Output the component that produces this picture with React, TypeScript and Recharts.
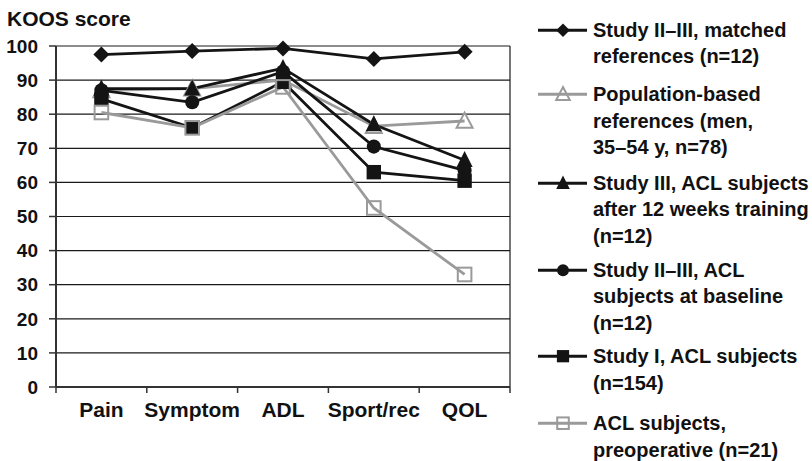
import React from 'react';
import { LineChart, Line, XAxis, YAxis, CartesianGrid, Legend } from 'recharts';

const categories = ['Pain', 'Symptom', 'ADL', 'Sport/rec', 'QOL'];
const matchedRefs = [97.5, 98.5, 99.3, 96.2, 98.3];
const populationRefs = [87, 87.5, 90, 76.5, 78];
const studyIIITraining = [87.5, 87.5, 93.5, 77, 66.5];
const baselineACL = [87, 83.5, 92.5, 70.5, 63.5];
const studyIACL = [84.5, 76, 89.5, 63, 60.5];
const preopACL = [80.5, 76, 88, 52.5, 33];
const yTicks = [0, 10, 20, 30, 40, 50, 60, 70, 80, 90, 100];

const seriesKeys = ['matched', 'population', 'training', 'baseline', 'studyI', 'preop'];
const seriesValues = [matchedRefs, populationRefs, studyIIITraining, baselineACL, studyIACL, preopACL];
const seriesLabels = [
  ['Study II–III, matched', 'references (n=12)'],
  ['Population-based', 'references (men,', '35–54 y, n=78)'],
  ['Study III, ACL subjects', 'after 12 weeks training', '(n=12)'],
  ['Study II–III, ACL', 'subjects at baseline', '(n=12)'],
  ['Study I, ACL subjects', '(n=154)'],
  ['ACL subjects,', 'preoperative (n=21)'],
];

const BLACK = '#141414';
const GREY = '#9a9a9a';
const seriesColors = [BLACK, GREY, BLACK, BLACK, BLACK, GREY];
const seriesShapes = ['diamond', 'openTriangle', 'triangle', 'circle', 'square', 'openSquare'];
const LEGEND_GAPS = [0, 12, 9.5, 7.5, 7.5, 14];

const FONT = '"Liberation Sans", Arial, Helvetica, sans-serif';
const W = 812;
const H = 461;
const MARGIN = { top: 46, right: 302, bottom: 0, left: 0 };
const Y_AXIS_W = 56;
const X_AXIS_H = 74;
const PLOT_W = W - MARGIN.left - MARGIN.right - Y_AXIS_W;
const BAND = PLOT_W / categories.length;

const data = categories.map((c, i) => {
  const row: Record<string, any> = { cat: c };
  seriesKeys.forEach((k, j) => {
    row[k] = seriesValues[j][i];
  });
  return row;
});

function Marker({ shape, cx, cy, scale = 1, color }: any) {
  const s = 8 * scale;
  switch (shape) {
    case 'diamond':
      return <polygon points={`${cx},${cy - s} ${cx + s},${cy} ${cx},${cy + s} ${cx - s},${cy}`} fill={color} />;
    case 'triangle':
      return <polygon points={`${cx},${cy - s * 1.15} ${cx + s},${cy + s * 0.85} ${cx - s},${cy + s * 0.85}`} fill={color} />;
    case 'openTriangle':
      return (
        <polygon
          points={`${cx},${cy - s * 1.05} ${cx + s},${cy + s * 0.85} ${cx - s},${cy + s * 0.85}`}
          fill="none"
          stroke={color}
          strokeWidth={2}
        />
      );
    case 'circle':
      return <circle cx={cx} cy={cy} r={s * 0.88} fill={color} />;
    case 'square':
      return <rect x={cx - s * 0.9} y={cy - s * 0.9} width={s * 1.8} height={s * 1.8} fill={color} />;
    case 'openSquare':
      return (
        <rect x={cx - s * 0.85} y={cy - s * 0.85} width={s * 1.7} height={s * 1.7} fill="none" stroke={color} strokeWidth={2} />
      );
    default:
      return null;
  }
}

function XTick(props: any) {
  const { x, y, payload, index } = props;
  const last = index === categories.length - 1;
  return (
    <g>
      <line x1={x - BAND / 2} y1={y} x2={x - BAND / 2} y2={y + 6} stroke="#333" strokeWidth={1.5} />
      {last && <line x1={x + BAND / 2} y1={y} x2={x + BAND / 2} y2={y + 6} stroke="#333" strokeWidth={1.5} />}
      <text x={x} y={y + 30} textAnchor="middle" fontFamily={FONT} fontWeight="bold" fontSize={21} fill="#111">
        {payload.value}
      </text>
    </g>
  );
}

function LegendContent() {
  return (
    <div style={{ position: 'relative', width: 0, height: 0 }}>
      <div style={{ position: 'absolute', left: 0, top: 0, width: 280, fontFamily: FONT, fontWeight: 'bold', fontSize: 20, color: '#111' }}>
        {seriesLabels.map((lines, i) => (
          <div key={seriesKeys[i]} style={{ display: 'flex', alignItems: 'flex-start', marginTop: LEGEND_GAPS[i] }}>
            <svg width={55} height={26.4} style={{ flex: 'none', display: 'block' }}>
              <line x1={0} y1={13.2} x2={49} y2={13.2} stroke={seriesColors[i]} strokeWidth={3} />
              <Marker shape={seriesShapes[i]} cx={25} cy={13.2} scale={0.85} color={seriesColors[i]} />
            </svg>
            <div style={{ lineHeight: '26.4px', whiteSpace: 'nowrap' }}>
              {lines.map((l, k) => (
                <div key={k}>{l}</div>
              ))}
            </div>
          </div>
        ))}
      </div>
    </div>
  );
}

export default function App() {
  return (
    <div style={{ position: 'absolute', left: 0, top: 0, width: W, height: H, background: '#fff' }}>
      <div
        style={{
          position: 'absolute',
          left: 7,
          top: 8,
          fontFamily: FONT,
          fontWeight: 'bold',
          fontSize: 21,
          lineHeight: 1,
          color: '#111',
          whiteSpace: 'nowrap',
        }}
      >
        KOOS score
      </div>
      <LineChart width={W} height={H} data={data} margin={MARGIN}>
        <CartesianGrid
          stroke="#1a1a1a"
          strokeWidth={1.2}
          verticalCoordinatesGenerator={({ offset }: any) => [offset.left + offset.width]}
        />
        <XAxis
          dataKey="cat"
          scale="band"
          height={X_AXIS_H}
          tickLine={false}
          tickSize={0}
          tickMargin={0}
          axisLine={{ stroke: '#333', strokeWidth: 2 }}
          tick={<XTick />}
          interval={0}
        />
        <YAxis
          width={Y_AXIS_W}
          domain={[0, 100]}
          ticks={yTicks}
          interval={0}
          tickSize={7}
          tickMargin={11}
          axisLine={{ stroke: '#333', strokeWidth: 2 }}
          tickLine={{ stroke: '#333', strokeWidth: 1.5 }}
          tick={{ fontFamily: FONT, fontWeight: 'bold', fontSize: 19, fill: '#111' }}
        />
        <Legend
          content={<LegendContent />}
          layout="vertical"
          align="right"
          verticalAlign="top"
          wrapperStyle={{ left: 538, top: 16.5, width: 0, height: 0 }}
        />
        {seriesKeys.map((k, i) => (
          <Line
            key={k}
            dataKey={k}
            type="linear"
            stroke={seriesColors[i]}
            strokeWidth={2.8}
            isAnimationActive={false}
            dot={(p: any) => <Marker key={`${k}-${p.index}`} shape={seriesShapes[i]} cx={p.cx} cy={p.cy} color={seriesColors[i]} />}
            activeDot={false}
          />
        ))}
      </LineChart>
    </div>
  );
}
